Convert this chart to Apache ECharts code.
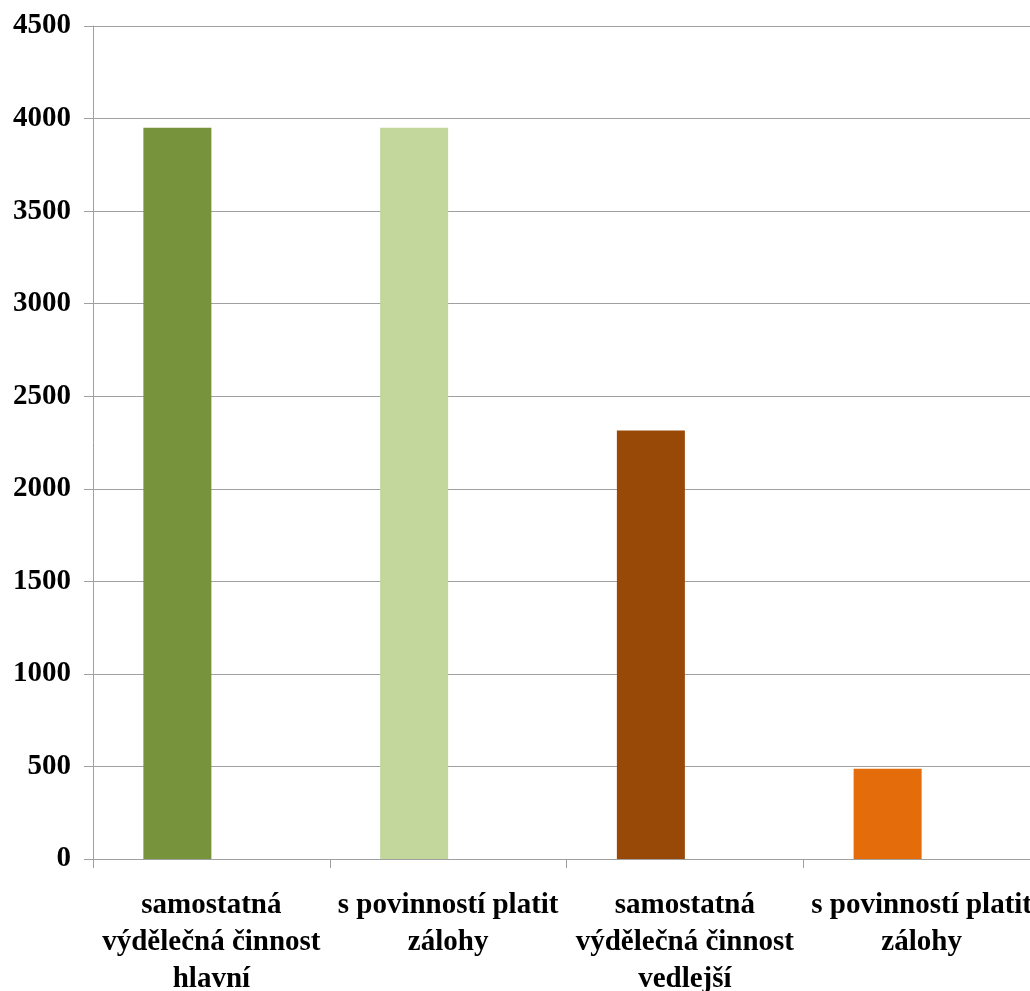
<!DOCTYPE html>
<html>
<head>
<meta charset="utf-8">
<script src="https://cdn.jsdelivr.net/npm/echarts@6/dist/echarts.min.js"></script>
<style>
    html, body { margin: 0; padding: 0; background: #fff; }
    #chart { width: 1030px; height: 991px; }
</style>
</head>
<body>
<div id="chart"></div>
<script>
// kategorie a hodnoty
var categories = [
    'samostatná\nvýdělečná činnost\nhlavní',
    's povinností platit\nzálohy',
    'samostatná\nvýdělečná činnost\nvedlejší',
    's povinností platit\nzálohy'
];
var values = [3950, 3950, 2315, 487];
var emptySlot = [null, null, null, null];
var barColors = ['#77933C', '#C3D69B', '#984807', '#E46C0A'];

(function () {
    var font = '"Liberation Serif", "Times New Roman", serif';

    var barData = values.map(function (v, i) {
        return { value: v, itemStyle: { color: barColors[i] } };
    });

    var chart = echarts.init(document.getElementById('chart'));
    chart.setOption({
        animation: false,
        // plocha grafu přesahuje pravý okraj (poslední popisek je oříznutý)
        grid: {
            left: 93, top: 26, width: 947, height: 833,
            containLabel: false,
            outerBoundsMode: 'none'
        },
        xAxis: {
            type: 'category',
            data: categories,
            axisLine: { lineStyle: { color: '#A0A0A0', width: 1 } },
            axisTick: { show: true, length: 9, lineStyle: { color: '#A0A0A0' } },
            axisLabel: {
                interval: 0,
                margin: 28,
                fontFamily: font,
                fontWeight: 'bold',
                fontSize: 29,
                lineHeight: 37,
                color: '#000'
            }
        },
        yAxis: {
            type: 'value',
            min: 0,
            max: 4500,
            interval: 500,
            axisLine: { show: true, lineStyle: { color: '#A0A0A0', width: 1 } },
            axisTick: { show: true, length: 9, lineStyle: { color: '#A0A0A0' } },
            splitLine: { lineStyle: { color: '#A0A0A0', width: 1 } },
            axisLabel: {
                margin: 22,
                fontFamily: font,
                fontWeight: 'bold',
                fontSize: 29,
                color: '#000',
                formatter: function (v) { return String(v); }
            }
        },
        series: [
            { type: 'bar', data: barData, barWidth: 68, barGap: '0%' },
            { type: 'bar', data: emptySlot, barWidth: 68 }
        ]
    });
})();
</script>
</body>
</html>
